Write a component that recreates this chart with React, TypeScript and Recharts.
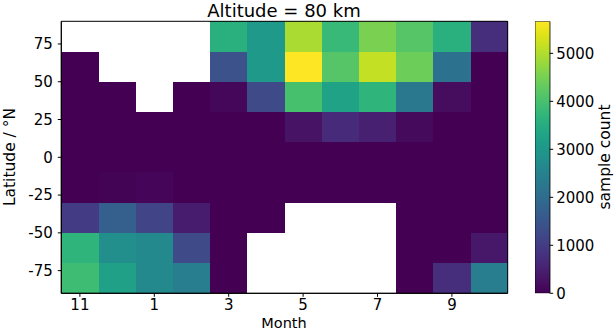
import React from 'react';
import { ComposedChart, BarChart, Bar, XAxis, YAxis, ReferenceArea, Scatter } from 'recharts';

const months = ['11', '12', '1', '2', '3', '4', '5', '6', '7', '8', '9', '10'];
const latEdges = [90, 70, 50, 30, 10, -10, -30, -50, -70, -90];
const yTicks = [-75, -50, -25, 0, 25, 50, 75];
const xTickIdx = [0, 2, 4, 6, 8, 10];
const cbTicks = [0, 1000, 2000, 3000, 4000, 5000];
const vmax = 5667;

// sample counts per latitude band (columns follow `months`); null = no data
const lat80 = [null, null, null, null, 3570, 3060, 4930, 3800, 4530, 4150, 3570, 740];
const lat60 = [0, null, null, null, 1420, 3060, 5667, 4150, 5150, 4400, 2130, 0];
const lat40 = [0, 0, null, 0, 100, 1250, 4000, 3250, 3680, 2270, 170, 0];
const lat20 = [0, 0, 0, 0, 0, 0, 280, 680, 500, 140, 0, 0];
const lat0 = [0, 0, 0, 0, 0, 0, 0, 0, 0, 0, 0, 0];
const latM20 = [0, 40, 80, 0, 0, 0, 0, 0, 0, 0, 0, 0];
const latM40 = [1000, 1700, 1130, 420, 0, 0, null, null, null, 0, 0, 0];
const latM60 = [3680, 2780, 2650, 1250, 0, null, null, null, null, 0, 0, 350];
const latM80 = [3900, 3230, 2660, 2380, 0, null, null, null, null, 0, 750, 2400];
const rows = [lat80, lat60, lat40, lat20, lat0, latM20, latM40, latM60, latM80];

const viridis = [
  '#440154', '#471365', '#482475', '#463480', '#414487', '#3b528b', '#355f8d',
  '#2f6c8e', '#2a788e', '#25848e', '#21918c', '#1e9c89', '#22a884', '#2fb47c',
  '#44bf70', '#5ec962', '#7ad151', '#9bd93c', '#bddf26', '#dfe318', '#fde725',
];

function hex(c: string) {
  return [1, 3, 5].map((i) => parseInt(c.slice(i, i + 2), 16));
}
function colorFor(v: number) {
  const t = Math.max(0, Math.min(1, v / vmax)) * (viridis.length - 1);
  const i = Math.min(Math.floor(t), viridis.length - 2);
  const f = t - i;
  const a = hex(viridis[i]);
  const b = hex(viridis[i + 1]);
  const c = a.map((x, k) => Math.round(x + (b[k] - x) * f));
  return `rgb(${c[0]},${c[1]},${c[2]})`;
}

const centers = rows.flatMap((r, ri) =>
  r.map((v, ci) => ({ x: ci, y: (latEdges[ri] + latEdges[ri + 1]) / 2, v }))
);

const FONT = 'DejaVu Sans';
const tickStyle = { fontSize: 15, fill: '#000', fontFamily: FONT };

export default function App() {
  return (
    <div style={{ position: 'fixed', left: 0, top: 0, width: 614, height: 331, background: '#fff' }}>
      <div style={{ position: 'absolute', left: 0, top: 0 }}>
        <ComposedChart width={614} height={331} data={centers}
          margin={{ top: 21.3, right: 106.3, bottom: 0, left: 0.3 }}>
          <XAxis type="number" dataKey="x" domain={[-0.5, 11.5]} ticks={xTickIdx}
            tickFormatter={(i: number) => months[i]} allowDataOverflow
            height={37.7} tickSize={3.5} tickMargin={3} tick={tickStyle}
            axisLine={{ stroke: '#000' }} tickLine={{ stroke: '#000' }} />
          <YAxis type="number" dataKey="y" domain={[-90, 90]} ticks={yTicks} allowDataOverflow
            width={61} tickSize={3.5} tickMargin={5} tick={tickStyle}
            axisLine={{ stroke: '#000' }} tickLine={{ stroke: '#000' }} />
          {rows.flatMap((r, ri) =>
            r.map((v, ci) =>
              v === null ? null : (
                <ReferenceArea key={`c${ri}-${ci}`} x1={ci - 0.5} x2={ci + 0.5}
                  y1={latEdges[ri + 1]} y2={latEdges[ri]}
                  fill={colorFor(v)} fillOpacity={1} stroke="none" shapeRendering="crispEdges" />
              )
            )
          )}
          <Scatter dataKey="y" fill="none" opacity={0} isAnimationActive={false} />
          <ReferenceArea x1={-0.5} x2={11.5} y1={-90} y2={90} fill="none" stroke="#000" strokeWidth={1} />
        </ComposedChart>
      </div>
      <div style={{ position: 'absolute', left: 535.3, top: 0 }}>
        <BarChart width={78.7} height={331} data={[{ name: 'cb', v: vmax }]}
          margin={{ top: 21.3, right: 0, bottom: 37.7, left: 0 }} barCategoryGap={0}>
          <defs>
            <linearGradient id="viridisGrad" x1="0" y1="1" x2="0" y2="0">
              {viridis.map((c, i) => (
                <stop key={i} offset={`${(i / (viridis.length - 1)) * 100}%`} stopColor={c} />
              ))}
            </linearGradient>
          </defs>
          <XAxis dataKey="name" hide />
          <YAxis orientation="right" domain={[0, vmax]} ticks={cbTicks} width={64}
            tickSize={3.5} tickMargin={3} tick={{ ...tickStyle, textAnchor: 'start' }}
            axisLine={false} tickLine={{ stroke: '#000' }} allowDataOverflow />
          <Bar dataKey="v" fill="url(#viridisGrad)" stroke="#000" strokeWidth={0.8} isAnimationActive={false} />
        </BarChart>
      </div>
      <svg width={614} height={331} style={{ position: 'absolute', left: 0, top: 0, pointerEvents: 'none' }}>
        <text x={284} y={16.5} textAnchor="middle" fontFamily={FONT} fontSize={18} fill="#000">Altitude = 80 km</text>
        <text x={284} y={327.6} textAnchor="middle" fontFamily={FONT} fontSize={14.5} fill="#000">Month</text>
        <text x={14.5} y={157} textAnchor="middle" fontFamily={FONT} fontSize={15.5} fill="#000"
          transform="rotate(-90 14.5 157)">Latitude / °N</text>
        <text x={609.5} y={157} textAnchor="middle" fontFamily={FONT} fontSize={15.5} fill="#000"
          transform="rotate(-90 609.5 157)">sample count</text>
      </svg>
    </div>
  );
}
